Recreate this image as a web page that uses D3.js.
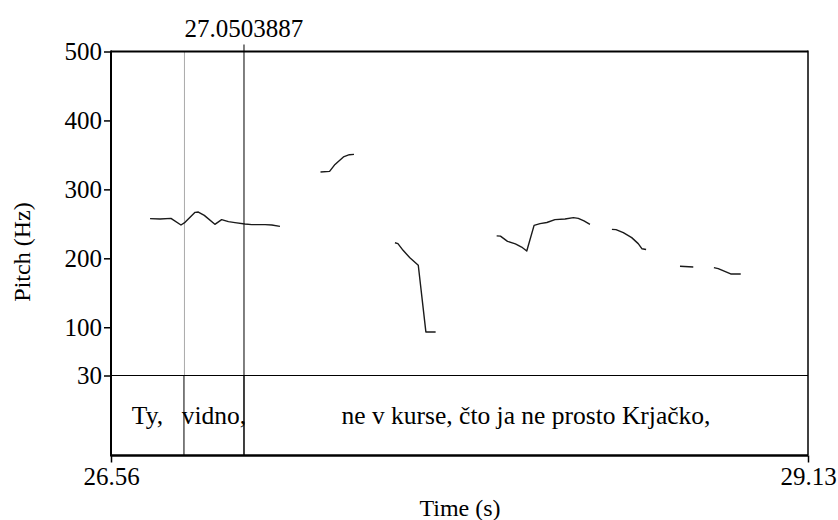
<!DOCTYPE html>
<html>
<head>
<meta charset="utf-8">
<script src="https://cdn.jsdelivr.net/npm/d3@7"></script>
<style>
  html, body { margin: 0; padding: 0; background: #fff; }
  svg { display: block; }
</style>
</head>
<body>
<svg id="chart" width="838" height="520"></svg>
<script>
// ---- data ----
const timeDomain = [26.56, 29.13];
const pitchDomain = [30, 500];
const pitchTicks = [500, 400, 300, 200, 100, 30];
const timeTickLabels = ["26.56", "29.13"];
const cursorTime = 27.0503887;
const cursorLabel = "27.0503887";
const tierBoundaries = [26.829, 27.0503887];
const tierLabels = ["Ty,", "vidno,", "ne v kurse, čto ja ne prosto Krjačko,"];

const seg1Time = [26.704, 26.741, 26.781, 26.818, 26.833, 26.870, 26.882, 26.904, 26.943, 26.968, 26.993, 27.017, 27.054, 27.079, 27.128, 27.153, 27.183];
const seg1Hz   = [257.5, 257.0, 258.0, 248.3, 252.2, 266.7, 267.1, 262.3, 249.3, 256.1, 253.2, 251.7, 249.7, 248.8, 248.8, 248.3, 246.4];
const seg2Time = [27.3325, 27.366, 27.386, 27.417, 27.439, 27.456];
const seg2Hz   = [325.1, 326.1, 336.2, 347.1, 350.3, 350.7];
const seg3Time = [27.607, 27.618, 27.637, 27.662, 27.693, 27.721, 27.757];
const seg3Hz   = [222.5, 221.3, 211.6, 200.7, 189.9, 93.2, 93.2];
const seg4Time = [27.982, 27.996, 28.022, 28.051, 28.074, 28.093, 28.120, 28.142, 28.167, 28.197, 28.234, 28.265, 28.283, 28.304, 28.326];
const seg4Hz   = [232.6, 232.2, 224.6, 221.0, 216.4, 210.6, 247.8, 250.3, 251.9, 256.1, 257.0, 259.0, 258.0, 254.4, 249.3];
const seg5Time = [28.407, 28.422, 28.449, 28.480, 28.504, 28.518, 28.533];
const seg5Hz   = [242.0, 241.6, 237.2, 230.0, 221.3, 213.8, 212.8];
const seg6Time = [28.658, 28.707];
const seg6Hz   = [188.4, 187.4];
const seg7Time = [28.783, 28.799, 28.845, 28.882];
const seg7Hz   = [186.5, 185.1, 177.3, 177.3];

// ---- layout ----
const FONT = '"Liberation Serif", "Times New Roman", Tinos';
const plotLeft = 111, plotRight = 808, plotTop = 51.5, pitchBottom = 375.5, tierBottom = 455.5;
const svg = d3.select("#chart");
const x = d3.scaleLinear().domain(timeDomain).range([plotLeft, plotRight]);
const y = d3.scaleLinear().domain(pitchDomain).range([pitchBottom, plotTop]);

const segments = [
  [seg1Time, seg1Hz], [seg2Time, seg2Hz], [seg3Time, seg3Hz], [seg4Time, seg4Hz],
  [seg5Time, seg5Hz], [seg6Time, seg6Hz], [seg7Time, seg7Hz]
].map(([t, h]) => t.map((v, i) => [v, h[i]]));

function txt(sel) { return sel.style("font-family", FONT).attr("fill", "#000"); }

// dotted boundary line in pitch area
svg.append("line")
  .attr("x1", x(tierBoundaries[0]) + 0.5).attr("x2", x(tierBoundaries[0]) + 0.5)
  .attr("y1", plotTop).attr("y2", pitchBottom)
  .attr("stroke", "#555").attr("stroke-width", 1).attr("stroke-dasharray", "1,1");

// cursor line
svg.append("line")
  .attr("x1", x(cursorTime)).attr("x2", x(cursorTime))
  .attr("y1", plotTop - 7).attr("y2", tierBottom)
  .attr("stroke", "#000").attr("stroke-width", 1);
txt(svg.append("text"))
  .attr("x", x(cursorTime)).attr("y", 37)
  .attr("text-anchor", "middle").style("font-size", "25px")
  .text(cursorLabel);

// tier boundaries (solid in tier)
tierBoundaries.forEach(b => {
  svg.append("line")
    .attr("x1", x(b)).attr("x2", x(b))
    .attr("y1", pitchBottom).attr("y2", tierBottom)
    .attr("stroke", "#000").attr("stroke-width", 1);
});

// tier labels
const edges = [timeDomain[0], ...tierBoundaries, timeDomain[1]];
tierLabels.forEach((lab, i) => {
  txt(svg.append("text"))
    .attr("x", (x(edges[i]) + x(edges[i + 1])) / 2)
    .attr("y", 424)
    .attr("text-anchor", "middle").style("font-size", "25.5px")
    .text(lab);
});

// pitch contours
const line = d3.line().x(d => x(d[0])).y(d => y(d[1]));
svg.append("g").selectAll("path").data(segments).join("path")
  .attr("d", line)
  .attr("fill", "none").attr("stroke", "#1a1a1a").attr("stroke-width", 1.4)
  .attr("stroke-linejoin", "round");

// separator between pitch and tier
svg.append("line")
  .attr("x1", plotLeft).attr("x2", plotRight).attr("y1", pitchBottom).attr("y2", pitchBottom)
  .attr("stroke", "#000").attr("stroke-width", 1);

// frame
svg.append("line").attr("x1", plotLeft).attr("x2", plotRight).attr("y1", plotTop).attr("y2", plotTop)
  .attr("stroke", "#000").attr("stroke-width", 2);
svg.append("line").attr("x1", plotLeft).attr("x2", plotLeft).attr("y1", plotTop - 1).attr("y2", tierBottom + 1)
  .attr("stroke", "#000").attr("stroke-width", 2);
svg.append("line").attr("x1", plotRight).attr("x2", plotRight).attr("y1", plotTop - 1).attr("y2", tierBottom)
  .attr("stroke", "#000").attr("stroke-width", 1.5);
svg.append("line").attr("x1", plotLeft).attr("x2", plotRight).attr("y1", tierBottom).attr("y2", tierBottom)
  .attr("stroke", "#000").attr("stroke-width", 2.5);

// left axis
const yAxis = d3.axisLeft(y).tickValues(pitchTicks).tickSize(7).tickPadding(2).tickFormat(d3.format("d"));
const gy = svg.append("g").attr("transform", `translate(${plotLeft},0)`).call(yAxis);
gy.select(".domain").remove();
gy.selectAll(".tick line").attr("stroke", "#000").attr("stroke-width", 1.5);
txt(gy.selectAll(".tick text")).style("font-size", "25px");

// bottom axis
const xAxis = d3.axisBottom(x).tickValues(timeDomain).tickSize(7).tickPadding(5)
  .tickFormat((d, i) => timeTickLabels[i]);
const gx = svg.append("g").attr("transform", `translate(0,${tierBottom})`).call(xAxis);
gx.select(".domain").remove();
gx.selectAll(".tick line").attr("stroke", "#000").attr("stroke-width", 1.5);
txt(gx.selectAll(".tick text")).style("font-size", "25px");

// axis titles
txt(svg.append("text")).attr("x", 460).attr("y", 516)
  .attr("text-anchor", "middle").style("font-size", "24px").text("Time (s)");
txt(svg.append("text"))
  .attr("transform", "translate(30,252) rotate(-90)")
  .attr("text-anchor", "middle").style("font-size", "24px").text("Pitch (Hz)");
</script>
</body>
</html>
